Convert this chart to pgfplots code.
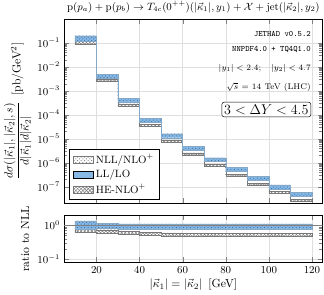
\documentclass[border=0pt]{standalone}
\usepackage{pgfplots}
\pgfplotsset{compat=1.18}
\usetikzlibrary{patterns}
\definecolor{llblue}{RGB}{135,185,228}
\definecolor{llpat}{RGB}{45,105,175}
\definecolor{bandgray}{RGB}{120,120,120}

\tikzset{
  nllstyle/.style={pattern=crosshatch dots, pattern color=bandgray, draw=bandgray, line width=0.3pt},
  hestyle/.style={pattern=crosshatch, pattern color=bandgray, draw=bandgray, line width=0.3pt},
  llfill/.style={fill=llblue, draw=none},
  llpattern/.style={pattern=crosshatch dots, pattern color=llpat, draw=llblue!70!gray, line width=0.3pt},
}

\pgfplotsset{
  myaxis/.style={
    scale only axis,
    width=220pt,
    xmin=5, xmax=125,
    xtick={20,40,60,80,100,120},
    grid=major,
    major grid style={gray!25, line width=0.3pt},
    tick align=inside,
    ticklabel style={font=\small},
  },
}

\begin{document}
\begin{tikzpicture}
\begin{axis}[
  myaxis,
  name=main,
  height=157pt,
  ymode=log,
  ymin=2e-8, ymax=1,
  ytick={1e-7,1e-6,1e-5,1e-4,1e-3,1e-2,1e-1},
  xticklabels={},
  ylabel={$\displaystyle\frac{d\sigma(\vert\vec\kappa_1\vert,\vert\vec\kappa_2\vert,s)}{d\vert\vec\kappa_1\vert d\vert\vec\kappa_2\vert}$ \,[pb/GeV$^2$]},
  ylabel style={yshift=-2pt},
  legend style={at={(0.02,0.02)}, anchor=south west, font=\small, draw=black},
  legend cell align=left,
]
% NLL/NLO+ band
\addplot[nllstyle, forget plot] coordinates {
(10,0.1597) (20,0.1597) (20,4.503e-3) (30,4.503e-3) (30,4.714e-4) (40,4.714e-4)
(40,7.136e-5) (50,7.136e-5) (50,1.597e-5) (60,1.597e-5) (60,4.714e-6) (70,4.714e-6)
(70,1.597e-6) (80,1.597e-6) (80,6.214e-7) (90,6.214e-7) (90,2.591e-7) (100,2.591e-7)
(100,1.184e-7) (110,1.184e-7) (110,5.668e-8) (120,5.668e-8)
(120,4.828e-8) (110,4.828e-8) (110,1.008e-7) (100,1.008e-7) (100,2.207e-7) (90,2.207e-7)
(90,5.294e-7) (80,5.294e-7) (80,1.361e-6) (70,1.361e-6) (70,4.016e-6) (60,4.016e-6)
(60,1.361e-5) (50,1.361e-5) (50,6.078e-5) (40,6.078e-5) (40,4.016e-4) (30,4.016e-4)
(30,3.835e-3) (20,3.835e-3) (20,0.1361) (10,0.1361) (10,0.1597)
};
% HE-NLO+ band
\addplot[hestyle, forget plot] coordinates {
(10,0.1272) (20,0.1272) (20,3.085e-3) (30,3.085e-3) (30,2.881e-4) (40,2.881e-4)
(40,4.096e-5) (50,4.096e-5) (50,8.874e-6) (60,8.874e-6) (60,2.575e-6) (70,2.575e-6)
(70,8.578e-7) (80,8.578e-7) (80,3.337e-7) (90,3.337e-7) (90,1.391e-7) (100,1.391e-7)
(100,6.357e-8) (110,6.357e-8) (110,3.044e-8) (120,3.044e-8)
(120,2.467e-8) (110,2.467e-8) (110,5.151e-8) (100,5.151e-8) (100,1.128e-7) (90,1.128e-7)
(90,2.704e-7) (80,2.704e-7) (80,6.951e-7) (70,6.951e-7) (70,2.095e-6) (60,2.095e-6)
(60,7.247e-6) (50,7.247e-6) (50,3.304e-5) (40,3.304e-5) (40,2.313e-4) (30,2.313e-4)
(30,2.501e-3) (20,2.501e-3) (20,0.0917) (10,0.0917) (10,0.1272)
};
% LL/LO band (fill + pattern)
\addplot[llfill, forget plot] coordinates {
(10,0.1997) (20,0.1997) (20,4.794e-3) (30,4.794e-3) (30,4.802e-4) (40,4.802e-4)
(40,7.268e-5) (50,7.268e-5) (50,1.627e-5) (60,1.627e-5) (60,4.802e-6) (70,4.802e-6)
(70,1.627e-6) (80,1.627e-6) (80,6.329e-7) (90,6.329e-7) (90,2.639e-7) (100,2.639e-7)
(100,1.206e-7) (110,1.206e-7) (110,5.773e-8) (120,5.773e-8)
(120,3.936e-8) (110,3.936e-8) (110,8.22e-8) (100,8.22e-8) (100,1.799e-7) (90,1.799e-7)
(90,4.316e-7) (80,4.316e-7) (80,1.109e-6) (70,1.109e-6) (70,3.274e-6) (60,3.274e-6)
(60,1.109e-5) (50,1.109e-5) (50,4.955e-5) (40,4.955e-5) (40,3.274e-4) (30,3.274e-4)
(30,3.335e-3) (20,3.335e-3) (20,0.1154) (10,0.1154) (10,0.1997)
};
\addplot[llpattern, forget plot] coordinates {
(10,0.1997) (20,0.1997) (20,4.794e-3) (30,4.794e-3) (30,4.802e-4) (40,4.802e-4)
(40,7.268e-5) (50,7.268e-5) (50,1.627e-5) (60,1.627e-5) (60,4.802e-6) (70,4.802e-6)
(70,1.627e-6) (80,1.627e-6) (80,6.329e-7) (90,6.329e-7) (90,2.639e-7) (100,2.639e-7)
(100,1.206e-7) (110,1.206e-7) (110,5.773e-8) (120,5.773e-8)
(120,3.936e-8) (110,3.936e-8) (110,8.22e-8) (100,8.22e-8) (100,1.799e-7) (90,1.799e-7)
(90,4.316e-7) (80,4.316e-7) (80,1.109e-6) (70,1.109e-6) (70,3.274e-6) (60,3.274e-6)
(60,1.109e-5) (50,1.109e-5) (50,4.955e-5) (40,4.955e-5) (40,3.274e-4) (30,3.274e-4)
(30,3.335e-3) (20,3.335e-3) (20,0.1154) (10,0.1154) (10,0.1997)
};
\addlegendimage{area legend, nllstyle}
\addlegendentry{NLL/NLO$^+$}
\addlegendimage{area legend, fill=llblue, draw=none}
\addlegendentry{LL/LO}
\addlegendimage{area legend, hestyle}
\addlegendentry{HE-NLO$^+$}
\node[anchor=east, font=\scriptsize\ttfamily] at (axis description cs:0.97,0.92) {JETHAD v0.5.2};
\node[anchor=east, font=\scriptsize\ttfamily] at (axis description cs:0.97,0.834) {NNPDF4.0 + TQ4Q1.0};
\node[anchor=east, font=\scriptsize] at (axis description cs:0.97,0.733) {$\vert y_1\vert < 2.4;\quad \vert y_2\vert < 4.7$};
\node[anchor=east, font=\scriptsize] at (axis description cs:0.97,0.629) {$\sqrt{s}$ = 14 TeV (LHC)};
\node[anchor=east, font=\large, draw=black, rounded corners=2pt, inner sep=2pt, fill=white] at (axis description cs:0.955,0.509) {$3 < \Delta Y < 4.5$};
\end{axis}
\node[anchor=south, font=\small, inner sep=1pt] at ([yshift=4pt]main.north) {$\mathrm{p}(p_a) + \mathrm{p}(p_b) \to T_{4c}(0^{++})(\vert\vec\kappa_1\vert, y_1) + \mathcal{X} + \mathrm{jet}(\vert\vec\kappa_2\vert, y_2)$};
\begin{axis}[
  myaxis,
  at={(main.south west)}, anchor=north west, yshift=-10pt,
  height=40pt,
  ymode=log,
  ymin=0.08, ymax=2,
  ytick={0.1,1},
  xlabel={$\vert\vec\kappa_1\vert = \vert\vec\kappa_2\vert$ \,[GeV]},
  ylabel={ratio to NLL},
  xlabel style={yshift=2pt},
]
\addplot[nllstyle] coordinates {(10,0.92) (120,0.92) (120,1.08) (10,1.08) (10,0.92)};
\addplot[hestyle] coordinates {
(10,0.86) (20,0.86) (20,0.74) (30,0.74) (30,0.66) (40,0.66) (40,0.62) (50,0.62)
(50,0.60) (60,0.60) (60,0.59) (70,0.59) (70,0.58) (120,0.58)
(120,0.47) (70,0.47) (70,0.48) (60,0.48) (60,0.49) (50,0.49) (50,0.50) (40,0.50)
(40,0.53) (30,0.53) (30,0.60) (20,0.60) (20,0.62) (10,0.62) (10,0.86)
};
\addplot[llfill] coordinates {
(10,1.35) (20,1.35) (20,1.15) (30,1.15) (30,1.10) (120,1.10)
(120,0.75) (30,0.75) (30,0.80) (20,0.80) (20,0.78) (10,0.78) (10,1.35)
};
\addplot[llpattern] coordinates {
(10,1.35) (20,1.35) (20,1.15) (30,1.15) (30,1.10) (120,1.10)
(120,0.75) (30,0.75) (30,0.80) (20,0.80) (20,0.78) (10,0.78) (10,1.35)
};
\addplot[gray, line width=1pt] coordinates {(5,1) (125,1)};
\end{axis}
\end{tikzpicture}
\end{document}
